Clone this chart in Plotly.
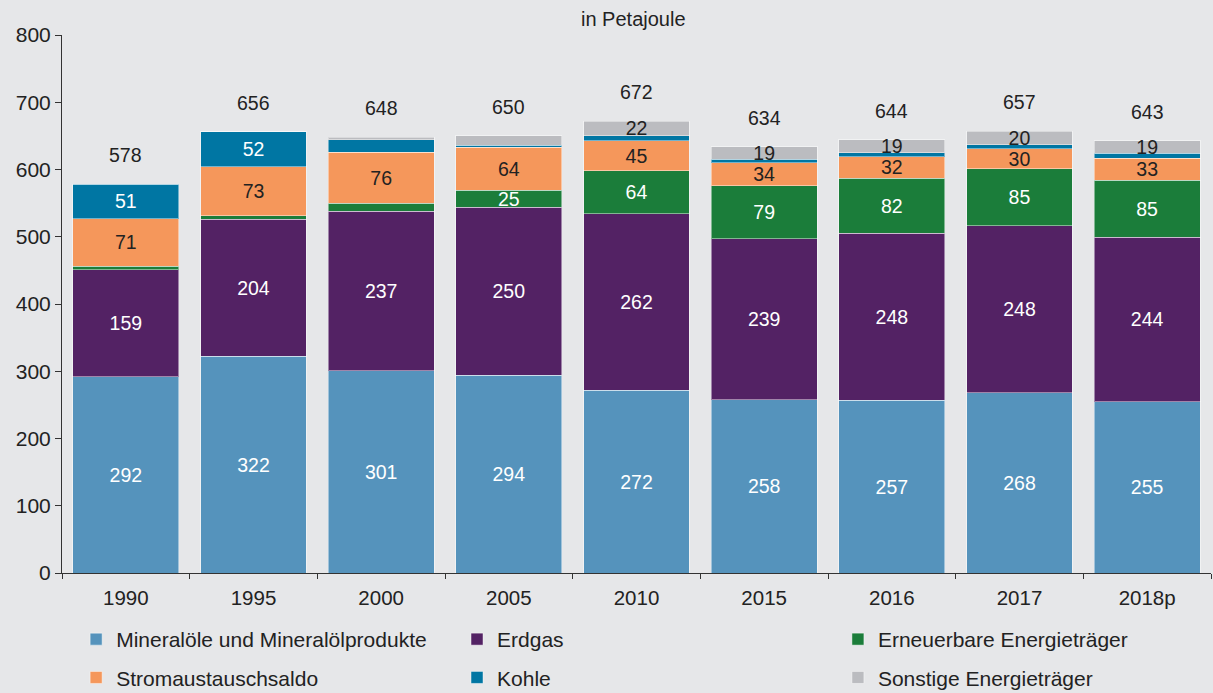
import plotly.graph_objects as go

years = ["1990", "1995", "2000", "2005", "2010", "2015", "2016", "2017", "2018p"]
mineraloel = [292, 322, 301, 294, 272, 258, 257, 268, 255]
erdgas = [159, 204, 237, 250, 262, 239, 248, 248, 244]
erneuerbar = [5, 5, 12, 25, 64, 79, 82, 85, 85]
strom = [71, 73, 76, 64, 45, 34, 32, 30, 33]
kohle = [51, 52, 18, 3, 7, 5, 6, 6, 7]
sonstige = [0, 0, 4, 14, 22, 19, 19, 20, 19]
totals = [578, 656, 648, 650, 672, 634, 644, 657, 643]

# which segment values are labelled in the reference
show_min = [True] * 9
show_erd = [True] * 9
show_ern = [False, False, False, True, True, True, True, True, True]
show_str = [True] * 9
show_koh = [True, True, False, False, False, False, False, False, False]
show_son = [False, False, False, False, True, True, True, True, True]

series = [
    ("Mineralöle und Mineralölprodukte", mineraloel, show_min, "#5593BC", "white", "legend"),
    ("Erdgas", erdgas, show_erd, "#532264", "white", "legend2"),
    ("Erneuerbare Energieträger", erneuerbar, show_ern, "#1B7D3A", "white", "legend3"),
    ("Stromaustauschsaldo", strom, show_str, "#F5975B", "#222222", "legend"),
    ("Kohle", kohle, show_koh, "#0076A3", "white", "legend2"),
    ("Sonstige Energieträger", sonstige, show_son, "#BBBCC0", "#222222", "legend3"),
]

FONT = "Liberation Sans, Arial, sans-serif"

fig = go.Figure()
for name, vals, show, color, tcolor, leg in series:
    fig.add_trace(go.Bar(
        x=years, y=vals, name=name, legend=leg, legendgroup=name,
        marker=dict(color=color, line=dict(color="rgba(255,255,255,0.45)", width=1)),
        text=[str(v) if s else "" for v, s in zip(vals, show)],
        textposition="inside", insidetextanchor="middle",
        textangle=0, constraintext="none",
        textfont=dict(family=FONT, size=19.5, color=tcolor),
        hoverinfo="skip",
    ))

# totals above the bars (category axis -> use category index)
for i, t in enumerate(totals):
    fig.add_annotation(x=i, y=t, text=str(t), showarrow=False, yshift=29,
                       font=dict(family=FONT, size=19.5, color="#222222"))

fig.add_annotation(x=0.5, y=1, xref="paper", yref="paper", yshift=29, xshift=-3,
                   text="in Petajoule", showarrow=False,
                   font=dict(family=FONT, size=20, color="#222222"))

leg_common = dict(orientation="v", yref="container", y=0.1068, yanchor="top",
                  xanchor="left", traceorder="grouped", tracegroupgap=8,
                  font=dict(family=FONT, size=21, color="#222222"),
                  bgcolor="rgba(0,0,0,0)")

fig.update_layout(
    width=1213, height=693,
    barmode="stack", bargap=0.17,
    paper_bgcolor="#E6E7E9", plot_bgcolor="#E6E7E9",
    margin=dict(l=62, r=2, t=35, b=120),
    font=dict(family=FONT, size=18, color="#222222"),
    legend=dict(x=0.0123, **leg_common),
    legend2=dict(x=0.3438, **leg_common),
    legend3=dict(x=0.6753, **leg_common),
    showlegend=True,
)
fig.update_yaxes(range=[0, 800], dtick=100, showgrid=False, zeroline=False,
                 showline=True, linecolor="#333333", linewidth=1,
                 ticks="outside", ticklen=6, tickcolor="#333333",
                 tickfont=dict(family=FONT, size=21, color="#222222"))
fig.update_xaxes(type="category", showgrid=False, showline=True,
                 linecolor="#333333", linewidth=1,
                 ticks="outside", ticklen=5, tickcolor="#333333", tickson="boundaries",
                 ticklabelstandoff=6,
                 tickfont=dict(family=FONT, size=20.5, color="#222222"))

fig.write_html("out.html", config={"displayModeBar": False},
               post_script="document.body.style.margin='0';")
